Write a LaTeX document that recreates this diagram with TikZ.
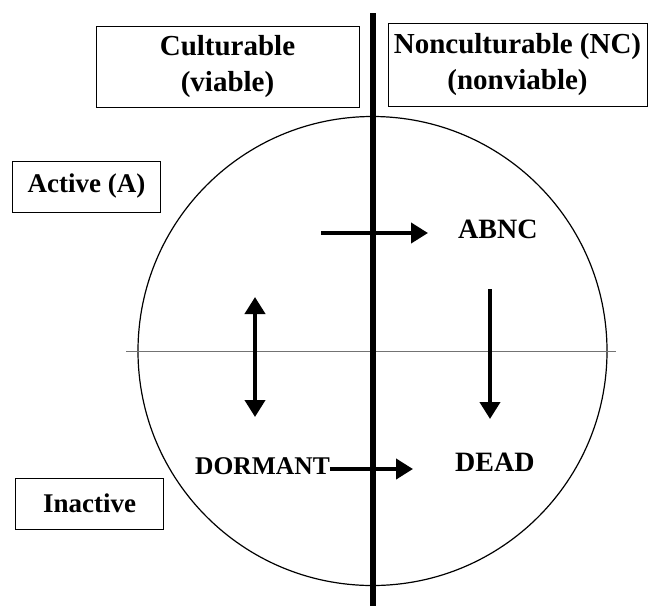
\documentclass[tikz,border=0pt]{standalone}
\usepackage{fontspec}
\setmainfont{Liberation Serif}
\usetikzlibrary{arrows.meta, positioning}

\begin{document}
\begin{tikzpicture}[x=1pt, y=-1pt,
		% Estilos de cajas y flechas
		headbox/.style = {draw, line width=0.8pt, rectangle, inner sep=0pt, align=center, font=\fontsize{29}{36}\selectfont\bfseries},
		sidebox/.style = {draw, line width=0.8pt, rectangle, inner sep=0pt, minimum width=148pt, minimum height=51pt, font=\fontsize{27}{32}\selectfont\bfseries},
		state/.style = {inner sep=0pt, anchor=west, font=\fontsize{28}{32}\selectfont\bfseries},
		flow/.style = {line width=4pt, -{Triangle[length=17pt, width=20pt]}},
		bothflow/.style = {line width=4pt, {Triangle[length=17pt, width=20pt]}-{Triangle[length=17pt, width=20pt]}}
		]
		\useasboundingbox (0,0) rectangle (650,606);
		
		% --- CIRCULO Y EJES ---
		\coordinate (centro) at (372.5,351);
		\draw [line width=1.2pt] (centro) circle (234.5pt);
		\coordinate (eje_izq) at (126,351);
		\coordinate (eje_der) at (616,351);
		\draw [line width=0.8pt, black!55] (eje_izq) -- (eje_der);
		\coordinate (div_top) at (373,13);
		\coordinate (div_bot) at (373,606);
		\draw [line width=6pt] (div_top) -- (div_bot);
		
		% --- CAJAS DE ENCABEZADO ---
		\node [headbox, minimum width=263pt, minimum height=81pt] (cult) at (227.5,66.5) {Culturable\\(viable)};
		\node [headbox, minimum width=259pt, minimum height=83pt] (noncult) at (517.5,64.5) {Nonculturable (NC)\\(nonviable)};
		\node [sidebox] (activo) at (86.5,186.5) {Active (A)};
		\node [sidebox] (inactivo) at (89.5,503.5) {Inactive};
		
		% --- ESTADOS ---
		\node [state] (abnc) at (458,229) {ABNC};
		\node [state] (dead) at (455,462) {DEAD};
		\node [state, font=\fontsize{25.5}{30}\selectfont\bfseries] (dormant) at (195,466) {DORMANT};
		
		% --- TRANSICIONES ---
		\coordinate (a_ini) at (321,233);
		\coordinate (a_fin) at (428,233);
		\draw [flow] (a_ini) -- (a_fin);
		
		\coordinate (m_ini) at (490,289);
		\coordinate (m_fin) at (490,419);
		\draw [flow] (m_ini) -- (m_fin);
		
		\coordinate (d_top) at (255,297);
		\coordinate (d_bot) at (255,417);
		\draw [bothflow] (d_top) -- (d_bot);
		
		\coordinate (n_fin) at (413,469);
		\draw [flow] (dormant.east |- n_fin) -- (n_fin);
		
	\end{tikzpicture}
\end{document}
